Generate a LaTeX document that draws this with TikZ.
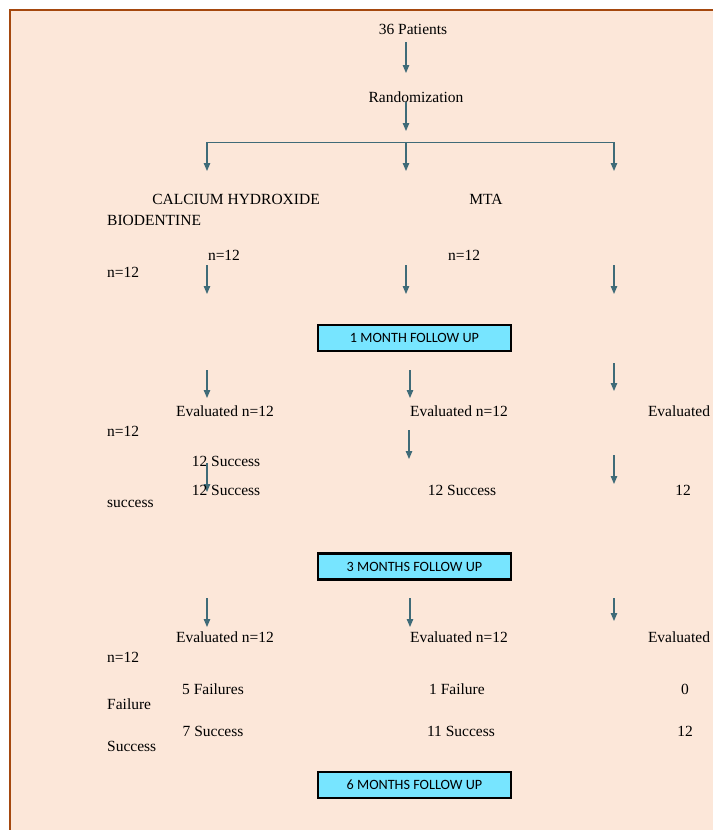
\documentclass[tikz,border=0pt]{standalone}
\usepackage{fontspec}
\setmainfont{Liberation Serif}
\newfontfamily\boxfont{Carlito}
\usetikzlibrary{arrows.meta}
\definecolor{peach}{HTML}{FCE7D9}
\definecolor{frame}{HTML}{A5480E}
\definecolor{arrcol}{HTML}{3F6B78}
\definecolor{cyanbox}{HTML}{77E5FF}
\tikzset{
  arr/.style={draw=arrcol, line width=1.2pt, -{Triangle[length=8pt,width=6.5pt]}},
  ln/.style={draw=arrcol, line width=1pt},
  txt/.style={inner sep=0pt, font=\fontsize{15.5}{18}\selectfont},
  ltxt/.style={txt, anchor=west},
  fbox/.style={draw=black, line width=2.4pt, fill=cyanbox, minimum width=193pt, minimum height=26pt, inner sep=0pt, font=\boxfont\fontsize{14.2}{16}\selectfont}
}
\begin{document}
\begin{tikzpicture}[x=1pt,y=-1pt]
\useasboundingbox (0,0) rectangle (713,830);
\fill[white] (0,0) rectangle (713,830);
\fill[peach] (10,10) rectangle (713,830);
\draw[frame, line width=2.5pt] (10,830) -- (10,10) -- (713,10);

% top
\node[txt] (pat) at (413,29) {36 Patients};
\node[txt] (rand) at (416,97) {Randomization};
\coordinate (a1s) at (406,42); \coordinate (a1e) at (406,73);
\draw[arr] (a1s) -- (a1e);
\coordinate (a2s) at (406,102); \coordinate (a2e) at (406,131);
\draw[arr] (a2s) -- (a2e);
\coordinate (hl) at (207,142); \coordinate (hm) at (406,142); \coordinate (hr) at (614,142);
\draw[ln] (hl) -- (hr);
\coordinate (b1) at (207,171); \coordinate (b2) at (406,171); \coordinate (b3) at (614,171);
\draw[arr] (hl) -- (b1);
\draw[arr] (hm) -- (b2);
\draw[arr] (hr) -- (b3);

% groups
\node[txt] (ca) at (236,199) {CALCIUM HYDROXIDE};
\node[txt] (mta) at (486,199) {MTA};
\node[ltxt] (bio) at (107,220) {BIODENTINE};
\node[txt] (n1) at (224,255) {n=12};
\node[txt] (n2) at (464,255) {n=12};
\node[ltxt] (n3) at (107,272) {n=12};
\coordinate (c1s) at (207,265); \coordinate (c1e) at (207,294);
\coordinate (c2s) at (406,265); \coordinate (c2e) at (406,294);
\coordinate (c3s) at (614,265); \coordinate (c3e) at (614,294);
\draw[arr] (c1s) -- (c1e);
\draw[arr] (c2s) -- (c2e);
\draw[arr] (c3s) -- (c3e);

% 1 month
\node[fbox] (m1) at (414.5,338) {1 MONTH FOLLOW UP};
\coordinate (d1s) at (207,370); \coordinate (d1e) at (207,398);
\coordinate (d2s) at (410,370); \coordinate (d2e) at (410,398);
\coordinate (d3s) at (614,363); \coordinate (d3e) at (614,391);
\draw[arr] (d1s) -- (d1e);
\draw[arr] (d2s) -- (d2e);
\draw[arr] (d3s) -- (d3e);
\node[txt] (e1) at (225,411) {Evaluated n=12};
\node[txt] (e2) at (459,411) {Evaluated n=12};
\node[txt] (e3) at (679,411) {Evaluated};
\node[ltxt] (e4) at (107,431) {n=12};
\coordinate (f2s) at (409,430); \coordinate (f2e) at (409,459);
\draw[arr] (f2s) -- (f2e);
\node[txt] (s0) at (226,461) {12 Success};
\coordinate (f1s) at (207,463); \coordinate (f1e) at (207,492);
\coordinate (f3s) at (614,455); \coordinate (f3e) at (614,484);
\draw[arr] (f1s) -- (f1e);
\draw[arr] (f3s) -- (f3e);
\node[txt] (s1) at (226,490) {12 Success};
\node[txt] (s2) at (462,490) {12 Success};
\node[txt] (s3) at (683,490) {12};
\node[ltxt] (s4) at (107,504) {success};

% 3 months
\node[fbox] (m3) at (414.5,566.5) {3 MONTHS FOLLOW UP};
\coordinate (g1s) at (207,598); \coordinate (g1e) at (207,627);
\coordinate (g2s) at (410,598); \coordinate (g2e) at (410,627);
\coordinate (g3s) at (614,598); \coordinate (g3e) at (614,621);
\draw[arr] (g1s) -- (g1e);
\draw[arr] (g2s) -- (g2e);
\draw[arr] (g3s) -- (g3e);
\node[txt] (h1) at (225,637) {Evaluated n=12};
\node[txt] (h2) at (459,637) {Evaluated n=12};
\node[txt] (h3) at (679,637) {Evaluated};
\node[ltxt] (h4) at (107,657) {n=12};
\node[txt] (i1) at (213,689) {5 Failures};
\node[txt] (i2) at (457,689) {1 Failure};
\node[txt] (i3) at (685,689) {0};
\node[ltxt] (i4) at (107,704) {Failure};
\node[txt] (j1) at (213,731) {7 Success};
\node[txt] (j2) at (461,731) {11 Success};
\node[txt] (j3) at (685,731) {12};
\node[ltxt] (j4) at (107,746) {Success};

% 6 months
\node[fbox] (m6) at (414.5,785) {6 MONTHS FOLLOW UP};
\end{tikzpicture}
\end{document}
